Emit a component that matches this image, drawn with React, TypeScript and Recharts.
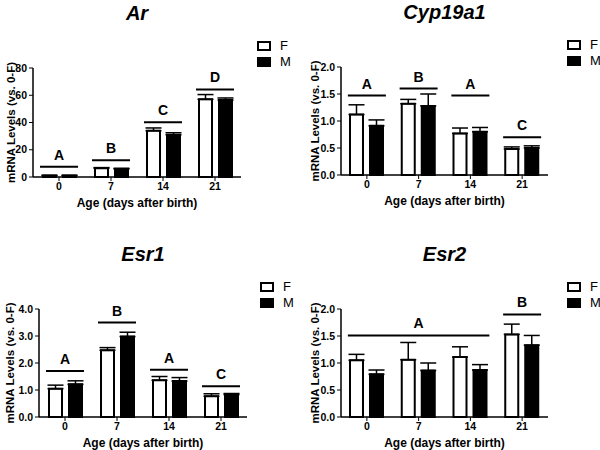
import React from 'react';
import { Bar, BarChart, ErrorBar, Label, Legend, ReferenceLine, XAxis, YAxis } from 'recharts';

const ages = ['0', '7', '14', '21'];

// Ar
const arF = [1.0, 6.5, 34, 57];
const arFErr = [0.3, 0.4, 2.0, 3.5];
const arM = [1.0, 6.0, 31, 56.5];
const arMErr = [0.3, 0.3, 1.5, 1.5];

// Cyp19a1
const cypF = [1.12, 1.32, 0.77, 0.48];
const cypFErr = [0.18, 0.08, 0.1, 0.04];
const cypM = [0.91, 1.28, 0.8, 0.5];
const cypMErr = [0.11, 0.22, 0.08, 0.04];

// Esr1
const esr1F = [1.05, 2.47, 1.36, 0.77];
const esr1FErr = [0.13, 0.1, 0.14, 0.09];
const esr1M = [1.21, 2.98, 1.33, 0.83];
const esr1MErr = [0.13, 0.16, 0.13, 0.04];

// Esr2
const esr2F = [1.05, 1.06, 1.11, 1.53];
const esr2FErr = [0.11, 0.32, 0.19, 0.19];
const esr2M = [0.79, 0.86, 0.87, 1.33];
const esr2MErr = [0.08, 0.14, 0.1, 0.18];

// significance letters: label, level, first and last age of the group
const arLetters = ['A', 'B', 'C', 'D'];
const arLevels = [7.6, 12.3, 40.1, 64.3];
const arSpans = [['0', '0'], ['7', '7'], ['14', '14'], ['21', '21']];
const cypLetters = ['A', 'B', 'A', 'C'];
const cypLevels = [1.47, 1.6, 1.47, 0.7];
const cypSpans = [['0', '0'], ['7', '7'], ['14', '14'], ['21', '21']];
const esr1Letters = ['A', 'B', 'A', 'C'];
const esr1Levels = [1.7, 3.5, 1.75, 1.14];
const esr1Spans = [['0', '0'], ['7', '7'], ['14', '14'], ['21', '21']];
const esr2Letters = ['A', 'B'];
const esr2Levels = [1.51, 1.9];
const esr2Spans = [['0', '14'], ['21', '21']];

const FONT = 'Arial, "Liberation Sans", sans-serif';

function build(f: number[], fe: number[], m: number[], me: number[]) {
  return ages.map((age, i) => ({
    age,
    F: f[i],
    M: m[i],
    fErr: [0, fe[i]],
    mErr: [0, me[i]],
  }));
}

// bracket line reaching a little past the outer bars of the group
function LetterLine(props: any) {
  const { x1, x2, y1 } = props;
  if (x1 == null || y1 == null) return null;
  return <line x1={Math.min(x1, x2) - 19} x2={Math.max(x1, x2) + 19} y1={y1} y2={y1} stroke="#000" strokeWidth={2} />;
}

function LegendBox() {
  const box = (fill: string) => (
    <span
      style={{
        display: 'inline-block',
        width: 10,
        height: 6,
        border: '2px solid #000',
        background: fill,
        marginRight: 9,
      }}
    />
  );
  return (
    <div style={{ fontFamily: FONT, fontSize: 13, lineHeight: '16px', color: '#000' }}>
      <div style={{ display: 'flex', alignItems: 'center' }}>{box('#fff')}F</div>
      <div style={{ display: 'flex', alignItems: 'center' }}>{box('#000')}M</div>
    </div>
  );
}

interface PanelProps {
  title: string;
  left: number;
  top: number;
  yWidth: number;
  right: number;
  mTop: number;
  mBottom: number;
  yMax: number;
  ticks: number[];
  decimals: number;
  f: number[];
  fe: number[];
  m: number[];
  me: number[];
  letters: string[];
  levels: number[];
  spans: string[][];
  yLabelOffset: number;
  legendLeft: number;
  legendTop: number;
}

function Panel(p: PanelProps) {
  const data = build(p.f, p.fe, p.m, p.me);
  const plotW = 300 - p.yWidth - p.right;
  const titleX = p.yWidth + plotW / 2;
  const tickStyle = { fontSize: 10.5, fontWeight: 700, fill: '#000', fontFamily: FONT };
  return (
    <div style={{ position: 'absolute', left: p.left, top: p.top, width: 300, height: 225 }}>
      <div
        style={{
          position: 'absolute',
          left: titleX - 100,
          width: 200,
          top: p.mTop - 36,
          textAlign: 'center',
          fontFamily: FONT,
          fontSize: 20,
          fontWeight: 700,
          fontStyle: 'italic',
          lineHeight: '26px',
        }}
      >
        {p.title}
      </div>
      <BarChart
        width={300}
        height={225}
        data={data}
        margin={{ top: p.mTop, right: p.right, bottom: p.mBottom, left: 0 }}
        barSize={13}
        barGap={7}
      >
        <XAxis
          dataKey="age"
          height={32}
          tick={tickStyle}
          tickSize={4}
          axisLine={{ stroke: '#000', strokeWidth: 1.5 }}
          tickLine={{ stroke: '#000' }}
        >
          <Label
            value="Age (days after birth)"
            position="insideBottom"
            offset={2}
            style={{ fontSize: 12, fontWeight: 700, fill: '#000', fontFamily: FONT }}
          />
        </XAxis>
        <YAxis
          width={p.yWidth}
          domain={[0, p.yMax]}
          ticks={p.ticks}
          tickFormatter={(v: number) => v.toFixed(p.decimals)}
          tick={tickStyle}
          tickSize={4}
          interval={0}
          axisLine={{ stroke: '#000', strokeWidth: 1.5 }}
          tickLine={{ stroke: '#000' }}
        >
          <Label
            value="mRNA Levels (vs. 0-F)"
            angle={-90}
            position="insideLeft"
            offset={p.yLabelOffset}
            style={{ fontSize: 11.5, fontWeight: 700, fill: '#000', fontFamily: FONT, textAnchor: 'middle' }}
          />
        </YAxis>
        <Legend
          verticalAlign="top"
          align="right"
          wrapperStyle={{ left: p.legendLeft, top: p.legendTop, width: 'auto' }}
          content={() => <LegendBox />}
        />
        {p.letters.map((letter, i) => (
          <ReferenceLine
            key={i}
            segment={[
              { x: p.spans[i][0], y: p.levels[i] },
              { x: p.spans[i][1], y: p.levels[i] },
            ]}
            shape={LetterLine}
            ifOverflow="visible"
            label={{
              value: letter,
              position: 'top',
              offset: 7,
              style: { fontSize: 14, fontWeight: 700, fill: '#000', fontFamily: FONT },
            }}
          />
        ))}
        <Bar dataKey="F" fill="#fff" stroke="#000" strokeWidth={2} isAnimationActive={false}>
          <ErrorBar dataKey="fErr" width={8} stroke="#000" strokeWidth={1.5} />
        </Bar>
        <Bar dataKey="M" fill="#000" stroke="#000" strokeWidth={2} isAnimationActive={false}>
          <ErrorBar dataKey="mErr" width={8} stroke="#000" strokeWidth={1.5} />
        </Bar>
      </BarChart>
    </div>
  );
}

export default function App() {
  return (
    <div style={{ position: 'absolute', left: 0, top: 0, width: 600, height: 450, background: '#fff' }}>
      <Panel
        title="Ar"
        left={0}
        top={0}
        yWidth={33}
        right={59}
        mTop={36}
        mBottom={16}
        yMax={80}
        ticks={[0, 20, 40, 60, 80]}
        decimals={0}
        f={arF}
        fe={arFErr}
        m={arM}
        me={arMErr}
        letters={arLetters}
        levels={arLevels}
        spans={arSpans}
        yLabelOffset={11}
        legendLeft={257}
        legendTop={38}
      />
      <Panel
        title="Cyp19a1"
        left={300}
        top={0}
        yWidth={41}
        right={52}
        mTop={35}
        mBottom={18}
        yMax={2}
        ticks={[0, 0.5, 1, 1.5, 2]}
        decimals={1}
        f={cypF}
        fe={cypFErr}
        m={cypM}
        me={cypMErr}
        letters={cypLetters}
        levels={cypLevels}
        spans={cypSpans}
        yLabelOffset={15}
        legendLeft={267}
        legendTop={37}
      />
      <Panel
        title="Esr1"
        left={0}
        top={225}
        yWidth={39}
        right={53}
        mTop={52}
        mBottom={1}
        yMax={4}
        ticks={[0, 1, 2, 3, 4]}
        decimals={1}
        f={esr1F}
        fe={esr1FErr}
        m={esr1M}
        me={esr1MErr}
        letters={esr1Letters}
        levels={esr1Levels}
        spans={esr1Spans}
        yLabelOffset={10}
        legendLeft={260}
        legendTop={54}
      />
      <Panel
        title="Esr2"
        left={300}
        top={225}
        yWidth={41}
        right={52}
        mTop={52}
        mBottom={1}
        yMax={2}
        ticks={[0, 0.5, 1, 1.5, 2]}
        decimals={1}
        f={esr2F}
        fe={esr2FErr}
        m={esr2M}
        me={esr2MErr}
        letters={esr2Letters}
        levels={esr2Levels}
        spans={esr2Spans}
        yLabelOffset={15}
        legendLeft={267}
        legendTop={54}
      />
    </div>
  );
}
